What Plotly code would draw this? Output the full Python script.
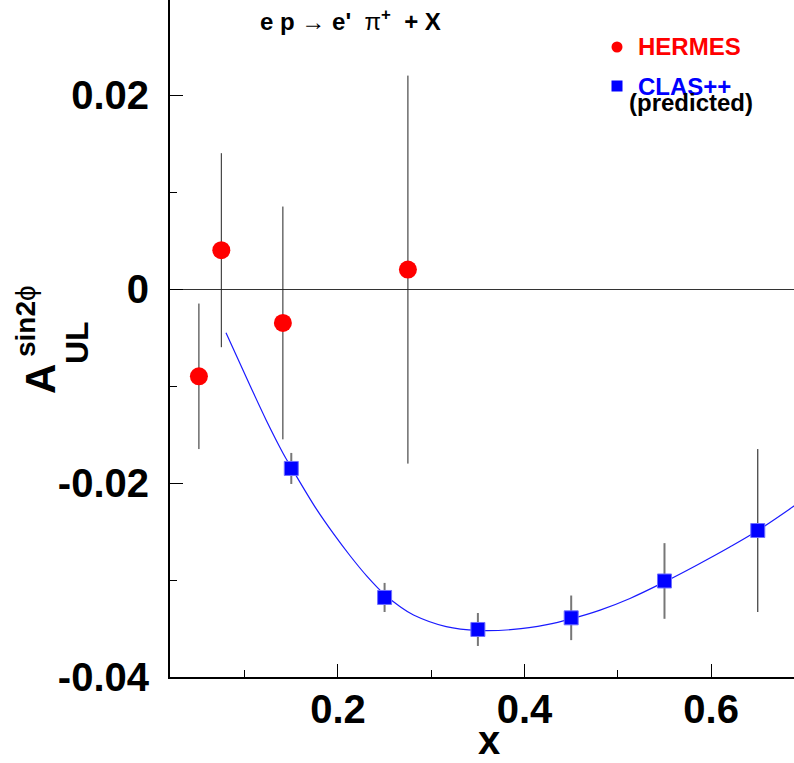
import plotly.graph_objects as go

# ---------------- data ----------------
hermes_x = [0.051, 0.075, 0.141, 0.275]
hermes_y = [-0.0090, 0.0040, -0.0035, 0.0020]
hermes_err = [0.0075, 0.0100, 0.0120, 0.0200]

clas_x = [0.15, 0.25, 0.35, 0.45, 0.55, 0.65]
clas_y = [-0.0185, -0.0318, -0.0351, -0.0339, -0.0301, -0.0249]
clas_err = [0.0016, 0.0015, 0.0017, 0.0023, 0.0039, 0.0084]

curve_x = [0.080, 0.106, 0.123, 0.141, 0.150, 0.177, 0.195, 0.213, 0.231, 0.250,
           0.266, 0.281, 0.316, 0.350, 0.388, 0.424, 0.450, 0.481, 0.513, 0.550,
           0.584, 0.620, 0.650, 0.690]
curve_y = [-0.0045, -0.0100, -0.0135, -0.0169, -0.0184, -0.0227, -0.0252, -0.0275,
           -0.0296, -0.0315, -0.0327, -0.0336, -0.0348, -0.0352, -0.0351, -0.0346,
           -0.0340, -0.0331, -0.0319, -0.0302, -0.0285, -0.0266, -0.0249, -0.0223]

x_tickvals = [0.2, 0.4, 0.6]
x_ticktext = ["0.2", "0.4", "0.6"]
y_tickvals = [-0.04, -0.02, 0.0, 0.02]
y_ticktext = ["-0.04", "-0.02", "0", "0.02"]

# ---------------- layout geometry ----------------
W, H = 794, 763
ML, MR, MT, MB = 170, 0, 0, 86
PW, PH = W - ML - MR, H - MT - MB
FONT = "Liberation Sans, Arial, Helvetica, sans-serif"
NB = "\u00a0"


def px(x):
    return (x - ML) / PW


def py(y):
    return (H - MB - y) / PH


fig = go.Figure()

# HERMES
fig.add_trace(go.Scatter(
    x=hermes_x, y=hermes_y, mode="markers",
    marker=dict(symbol="circle", size=18, color="#ff0000", line=dict(width=0)),
    error_y=dict(type="data", array=hermes_err, visible=True, color="#222222",
                 thickness=1, width=0),
    showlegend=False, hoverinfo="skip"))

# curve
fig.add_trace(go.Scatter(
    x=curve_x, y=curve_y, mode="lines",
    line=dict(color="#1a1aff", width=1.2, shape="spline", smoothing=1.0),
    showlegend=False, hoverinfo="skip"))

# CLAS++ (grey error bars)
fig.add_trace(go.Scatter(
    x=clas_x[:5], y=clas_y[:5], mode="markers",
    marker=dict(symbol="square", size=14, color="#0000ff",
                line=dict(width=1, color="#6f6fff")),
    error_y=dict(type="data", array=clas_err[:5], visible=True, color="#777777",
                 thickness=2, width=0),
    showlegend=False, hoverinfo="skip"))
# CLAS++ last point (black thin error bar)
fig.add_trace(go.Scatter(
    x=clas_x[5:], y=clas_y[5:], mode="markers",
    marker=dict(symbol="square", size=14, color="#0000ff",
                line=dict(width=1, color="#6f6fff")),
    error_y=dict(type="data", array=clas_err[5:], visible=True, color="#111111",
                 thickness=1, width=0),
    showlegend=False, hoverinfo="skip"))

ann = []
# title
title_txt = ("<b>e" + NB + "p</b>" + NB + "\u2192" + NB + "<b>e'</b>" + NB + NB
             + "\u03c0<sup><b>+</b></sup>" + NB + NB + "<b>+" + NB + "X</b>")
ann.append(dict(text=title_txt,
                x=px(350), y=py(20), xref="paper", yref="paper",
                xanchor="center", yanchor="middle",
                showarrow=False, font=dict(size=24, color="black", family=FONT)))
# legend text
ann.append(dict(text="<b>HERMES</b>", x=px(636), y=py(47), xref="paper", yref="paper",
                xanchor="left", yanchor="middle", showarrow=False,
                font=dict(size=24, color="#ff0000", family=FONT)))
ann.append(dict(text="<b>CLAS++</b>", x=px(636), y=py(86), xref="paper", yref="paper",
                xanchor="left", yanchor="middle", showarrow=False,
                font=dict(size=24, color="#0000ff", family=FONT)))
ann.append(dict(text="<b>(predicted)</b>", x=px(627), y=py(102), xref="paper", yref="paper",
                xanchor="left", yanchor="middle", showarrow=False,
                font=dict(size=24, color="black", family=FONT)))
# x-axis title
ann.append(dict(text="<b>x</b>", x=px(489), y=py(740), xref="paper", yref="paper",
                xanchor="center", yanchor="middle", showarrow=False,
                font=dict(size=40, color="black", family=FONT)))
# y-axis title pieces
ann.append(dict(text="<b>A</b>", x=px(40), y=py(379), xref="paper", yref="paper",
                xanchor="center", yanchor="middle", textangle=-90, showarrow=False,
                font=dict(size=42, color="black", family=FONT)))
ann.append(dict(text="<b>UL</b>", x=px(77), y=py(343), xref="paper", yref="paper",
                xanchor="center", yanchor="middle", textangle=-90, showarrow=False,
                font=dict(size=32, color="black", family=FONT)))
ann.append(dict(text="<b>sin2</b>\u03d5", x=px(25), y=py(321), xref="paper", yref="paper",
                xanchor="center", yanchor="middle", textangle=-90, showarrow=False,
                font=dict(size=28, color="black", family=FONT)))

shapes = [
    dict(type="circle", xref="paper", yref="paper", xsizemode="pixel", ysizemode="pixel",
         xanchor=px(617), yanchor=py(47), x0=-5.5, x1=5.5, y0=-5.5, y1=5.5,
         fillcolor="#ff0000", line=dict(width=0)),
    dict(type="rect", xref="paper", yref="paper", xsizemode="pixel", ysizemode="pixel",
         xanchor=px(617), yanchor=py(86), x0=-5.5, x1=5.5, y0=-5.5, y1=5.5,
         fillcolor="#0000ff", line=dict(width=0)),
]

fig.update_layout(
    width=W, height=H,
    margin=dict(l=ML, r=MR, t=MT, b=MB, pad=0),
    paper_bgcolor="white", plot_bgcolor="white",
    showlegend=False,
    annotations=ann, shapes=shapes,
    font=dict(family=FONT, color="black"),
    xaxis=dict(range=[0.02, 0.02 + PW / 933.0], showgrid=False, zeroline=False,
               showline=True, linecolor="black", linewidth=2, mirror=False,
               ticks="inside", ticklen=13, tickwidth=1, tickcolor="black",
               tickvals=x_tickvals, ticktext=x_ticktext,
               tickfont=dict(size=40, family=FONT, color="black", weight="bold"),
               ticklabelstandoff=-4,
               minor=dict(tickvals=[0.1, 0.3, 0.5], ticks="inside", ticklen=7,
                          tickwidth=1, tickcolor="black")),
    yaxis=dict(range=[-0.04, -0.04 + PH / 9700.0], showgrid=False,
               zeroline=True, zerolinecolor="#333333", zerolinewidth=1,
               showline=True, linecolor="black", linewidth=2, mirror=False,
               ticks="inside", ticklen=13, tickwidth=1, tickcolor="black",
               tickvals=y_tickvals, ticktext=y_ticktext,
               tickfont=dict(size=40, family=FONT, color="black", weight="bold"),
               ticklabelstandoff=11,
               minor=dict(tickvals=[-0.03, -0.01, 0.01], ticks="inside", ticklen=7,
                          tickwidth=1, tickcolor="black")),
)

fig.write_html("out.html")
